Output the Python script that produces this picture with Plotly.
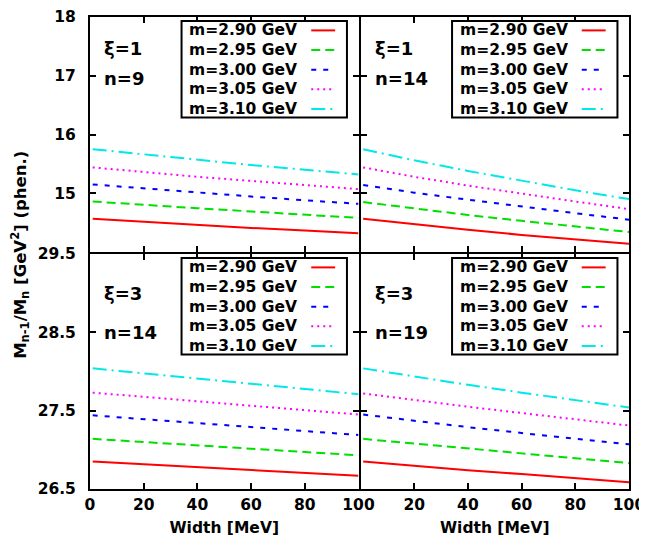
import plotly.graph_objects as go
from plotly.subplots import make_subplots

# ---------------- data ----------------
width = [1, 20, 40, 60, 80, 100]
mass_labels = ["m=2.90 GeV", "m=2.95 GeV", "m=3.00 GeV", "m=3.05 GeV", "m=3.10 GeV"]

# panel (xi=1, n=9)
p1_m290 = [14.565, 14.512, 14.460, 14.410, 14.364, 14.32]
p1_m295 = [14.86, 14.80, 14.745, 14.69, 14.635, 14.58]
p1_m300 = [15.15, 15.08, 15.01, 14.945, 14.88, 14.82]
p1_m305 = [15.44, 15.36, 15.28, 15.21, 15.14, 15.07]
p1_m310 = [15.75, 15.66, 15.57, 15.48, 15.40, 15.32]

# panel (xi=1, n=14)
p2_m290 = [14.565, 14.47, 14.38, 14.29, 14.21, 14.14]
p2_m295 = [14.85, 14.74, 14.63, 14.53, 14.43, 14.34]
p2_m300 = [15.14, 15.01, 14.89, 14.77, 14.66, 14.55]
p2_m305 = [15.44, 15.28, 15.13, 14.99, 14.86, 14.73]
p2_m310 = [15.75, 15.56, 15.38, 15.21, 15.05, 14.90]

# panel (xi=3, n=14)
p3_m290 = [26.85, 26.815, 26.78, 26.745, 26.705, 26.67]
p3_m295 = [27.14, 27.10, 27.055, 27.01, 26.97, 26.93]
p3_m300 = [27.44, 27.39, 27.34, 27.29, 27.24, 27.19]
p3_m305 = [27.73, 27.675, 27.62, 27.56, 27.505, 27.45]
p3_m310 = [28.04, 27.975, 27.91, 27.84, 27.775, 27.71]

# panel (xi=3, n=19)
p4_m290 = [26.85, 26.795, 26.74, 26.69, 26.635, 26.585]
p4_m295 = [27.14, 27.08, 27.015, 26.95, 26.89, 26.83]
p4_m300 = [27.45, 27.37, 27.29, 27.215, 27.14, 27.07]
p4_m305 = [27.72, 27.635, 27.55, 27.47, 27.39, 27.31]
p4_m310 = [28.04, 27.935, 27.83, 27.73, 27.635, 27.54]

panel_xi = ["ξ=1", "ξ=1", "ξ=3", "ξ=3"]
panel_n = ["n=9", "n=14", "n=14", "n=19"]

x_ticks = [0, 20, 40, 60, 80, 100]
x_ticktext_right = ["", "20", "40", "60", "80", "100"]
y_ticks_top = [14, 15, 16, 17, 18]
y_ticktext_top = ["", "15", "16", "17", "18"]
y_ticks_bottom = [26.5, 27.5, 28.5, 29.5]

# ---------------- styles ----------------
colors = ["#ff0000", "#00e000", "#0000ff", "#ff00ff", "#00e8e8"]
dashes = ["solid", "9px,5px", "5px,7px", "2px,4px", "14px,5px,2px,5px"]

panels = [
    (1, 1, [p1_m290, p1_m295, p1_m300, p1_m305, p1_m310], ""),
    (1, 2, [p2_m290, p2_m295, p2_m300, p2_m305, p2_m310], "2"),
    (2, 1, [p3_m290, p3_m295, p3_m300, p3_m305, p3_m310], "3"),
    (2, 2, [p4_m290, p4_m295, p4_m300, p4_m305, p4_m310], "4"),
]

FONT = "DejaVu Sans"
TXT = dict(family=FONT, size=15.5, color="black", weight="bold")
fig = make_subplots(rows=2, cols=2, horizontal_spacing=0, vertical_spacing=0)

for r, c, series, sfx in panels:
    for name, ys, col, d in zip(mass_labels, series, colors, dashes):
        fig.add_trace(
            go.Scatter(x=width, y=ys, mode="lines", name=name,
                       line=dict(color=col, width=2, dash=d), showlegend=False),
            row=r, col=c)

axis_common = dict(showline=True, mirror="allticks", linecolor="black", linewidth=2,
                   ticks="inside", ticklen=6, tickwidth=1.5, tickcolor="black",
                   showgrid=False, zeroline=False, automargin=False, tickfont=TXT)

# plot area is 539 x 472 px; panels overlap their shared 2px frame line
GX = 1.0 / 539
GY = 1.0 / 472
x_dom = {1: [0, 0.5 - GX], 2: [0.5 + GX, 1]}
y_dom = {1: [0.5 + GY, 1], 2: [0, 0.5 - GY]}

for r in (1, 2):
    for c in (1, 2):
        fig.update_xaxes(range=[0, 100], tickvals=x_ticks, domain=x_dom[c],
                         showticklabels=(r == 2), ticklabelstandoff=0,
                         row=r, col=c, **axis_common)
        if r == 1:
            fig.update_yaxes(range=[14, 18], tickvals=y_ticks_top, ticktext=y_ticktext_top,
                             domain=y_dom[r],
                             showticklabels=(c == 1), ticklabelstandoff=9,
                             row=r, col=c, **axis_common)
        else:
            fig.update_yaxes(range=[26.5, 29.5], tickvals=y_ticks_bottom,
                             tickformat=".1f", domain=y_dom[r],
                             showticklabels=(c == 1), ticklabelstandoff=9,
                             row=r, col=c, **axis_common)

fig.update_xaxes(ticktext=x_ticktext_right, row=2, col=2)

xt = dict(text="Width [MeV]", font=TXT, standoff=10)
fig.update_xaxes(title=xt, row=2, col=1)
fig.update_xaxes(title=xt, row=2, col=2)

# ---------------- per-panel key (text left, line sample right) ----------------
KEY_X0, KEY_X1 = 0.341, 0.957          # box, fraction of panel width
KEY_Y0, KEY_Y1 = 0.572, 0.983          # box, fraction of panel height
KEY_TEXT_X = 0.362
KEY_LINE_X0, KEY_LINE_X1 = 0.824, 0.913
KEY_ROW0, KEY_ROW_STEP = 0.943, 0.0835

for r, c, series, sfx in panels:
    xd, yd = f"x{sfx} domain", f"y{sfx} domain"
    fig.add_shape(type="rect", xref=xd, yref=yd, x0=KEY_X0, x1=KEY_X1, y0=KEY_Y0, y1=KEY_Y1,
                  line=dict(color="black", width=2), fillcolor="white", layer="above")
    for k, (name, col, d) in enumerate(zip(mass_labels, colors, dashes)):
        yk = KEY_ROW0 - k * KEY_ROW_STEP
        fig.add_annotation(text=name, xref=xd, yref=yd, x=KEY_TEXT_X, y=yk,
                           xanchor="left", yanchor="middle", showarrow=False, font=TXT)
        fig.add_shape(type="line", xref=xd, yref=yd, x0=KEY_LINE_X0, x1=KEY_LINE_X1,
                      y0=yk, y1=yk, line=dict(color=col, width=2, dash=d), layer="above")

ann_font = dict(family=FONT, size=18, color="black", weight="bold")
for i, (r, c, series, sfx) in enumerate(panels):
    xd, yd = f"x{sfx} domain", f"y{sfx} domain"
    fig.add_annotation(text=panel_xi[i], xref=xd, yref=yd, x=0.045, y=0.868 if r == 1 else 0.830,
                       xanchor="left", yanchor="middle", showarrow=False, font=ann_font)
    fig.add_annotation(text=panel_n[i], xref=xd, yref=yd, x=0.045, y=0.737 if r == 1 else 0.666,
                       xanchor="left", yanchor="middle", showarrow=False, font=ann_font)

fig.add_annotation(text="M<sub>n-1</sub>/M<sub>n</sub> [GeV<sup>2</sup>] (phen.)",
                   xref="paper", yref="paper", x=-0.13, y=0.496,
                   xanchor="center", yanchor="middle", textangle=-90, showarrow=False,
                   font=dict(family=FONT, size=16.5, color="black", weight="bold"))

# page body has an 8px margin; figure sized so the plot lands where the reference has it
fig.update_layout(width=639, height=540,
                  margin=dict(l=82, r=18, t=9, b=59, autoexpand=False),
                  paper_bgcolor="white", plot_bgcolor="white",
                  font=dict(family=FONT, color="black"))

fig.write_html("out.html")
